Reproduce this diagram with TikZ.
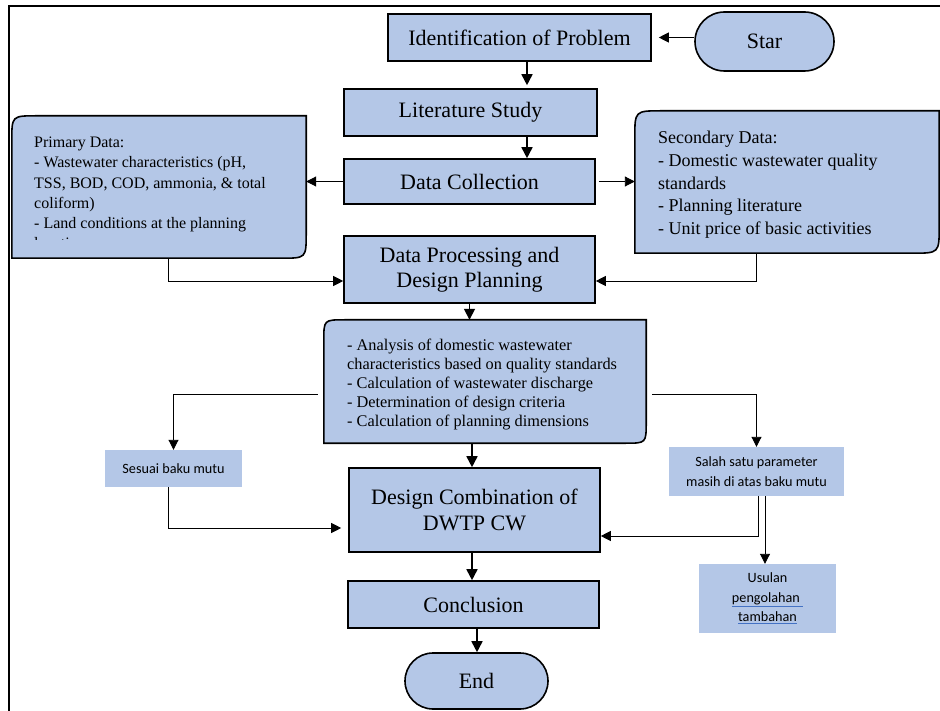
\documentclass[tikz,border=0pt]{standalone}
\usepackage{fontspec}
\setmainfont{Liberation Serif}
\newfontfamily\calibri{Carlito}
\usetikzlibrary{arrows.meta,shapes.misc,backgrounds}
\definecolor{boxblue}{RGB}{180,199,231}
\definecolor{ulblue}{RGB}{68,114,196}
\newcommand\blueul[1]{{\color{ulblue}\underline{\color{black}#1}}}
% box with the top left and bottom right corners rounded
\newcommand\cutbox[2]{%
  \begin{scope}[on background layer]
    \draw[fill=boxblue,line width=1.6pt]
      (#1.south west) -- ([yshift=-#2]#1.north west)
      .. controls (#1.north west) .. ([xshift=#2]#1.north west)
      -- (#1.north east) -- ([yshift=#2]#1.south east)
      .. controls (#1.south east) .. ([xshift=-#2]#1.south east) -- cycle;
  \end{scope}}

\begin{document}
\begin{tikzpicture}[x=1pt,y=-1pt,
    proc/.style={draw,fill=boxblue,line width=1.6pt,inner sep=0pt,align=center,
      font=\fontsize{22}{25.5}\selectfont},
    term/.style={proc,rounded rectangle},
    area/.style={inner sep=0pt},
    list/.style={inner sep=0pt,anchor=north west,align=left},
    note/.style={fill=boxblue,inner sep=0pt,align=center,
      font=\calibri\fontsize{14.2}{19.5}\selectfont},
    arr/.style={-{Triangle[length=10pt,width=10pt]},line width=0.9pt},
    arrb/.style={-{Triangle[length=11pt,width=11pt]},line width=1.7pt}]
  \useasboundingbox (0,0) rectangle (940,711);
  \draw[line width=1.3pt] (9,711) -- (9,6) -- (940,6);

  % main column
  \node[proc,minimum width=263pt,minimum height=47pt] (ident) at (519.5,37.5) {Identification of Problem};
  \node[term,minimum width=139pt,minimum height=59pt] (star) at (764.5,41.5) {Star};
  \node[proc,minimum width=253pt,minimum height=47pt] (lit) at (470.5,112.5) {Literature Study};
  \node[proc,minimum width=251pt,minimum height=45pt] (coll) at (469.5,181.5) {Data Collection};
  \node[proc,minimum width=251pt,minimum height=67pt] (proc) at (469.5,269.5) {Data Processing and\\Design Planning};
  \node[proc,minimum width=251pt,minimum height=84pt] (design) at (474.5,510) {Design Combination of\\DWTP CW};
  \node[proc,minimum width=251pt,minimum height=47pt] (concl) at (473.5,604.5) {Conclusion};
  \node[term,minimum width=143pt,minimum height=56pt] (endn) at (476.5,681) {End};

  % data boxes
  \node[area,minimum width=294pt,minimum height=142pt] (primary) at (159,187) {};
  \cutbox{primary}{25pt}
  \begin{scope}
    \clip (12,116) rectangle (306,240);
    \node[list,font=\fontsize{16}{20.2}\selectfont] (primtxt) at (34,137)
      {Primary Data:\\- Wastewater characteristics (pH,\\TSS, BOD, COD, ammonia, \& total\\coliform)\\- Land conditions at the planning\\location};
  \end{scope}

  \node[area,minimum width=304pt,minimum height=142pt] (secondary) at (787,182) {};
  \cutbox{secondary}{27pt}
  \node[list,font=\fontsize{18}{22.7}\selectfont] (sectxt) at (658,131)
    {Secondary Data:\\- Domestic wastewater quality\\standards\\- Planning literature\\- Unit price of basic activities};

  \node[area,minimum width=322pt,minimum height=123pt] (analysis) at (485,381.5) {};
  \cutbox{analysis}{21pt}
  \node[list,font=\fontsize{16.3}{19}\selectfont] (anatxt) at (347,339)
    {- Analysis of domestic wastewater\\characteristics based on quality standards\\- Calculation of wastewater discharge\\- Determination of design criteria\\- Calculation of planning dimensions};

  % side notes
  \node[note,minimum width=137pt,minimum height=37pt] (sesuai) at (173.5,468.5) {Sesuai baku mutu};
  \node[note,minimum width=175pt,minimum height=49pt] (salah) at (756.5,471.5) {Salah satu parameter\\masih di atas baku mutu};
  \node[note,minimum width=137pt,minimum height=69pt] (usulan) at (767.5,598.5) {Usulan\\\blueul{pengolahan\ }\\\blueul{tambahan}};

  % connectors
  \draw[arr] (star.west |- ident.east) -- ([xshift=7pt]ident.east);
  \draw[arrb] ([xshift=7.5pt]ident.south) -- ([xshift=7.5pt,yshift=3pt]ident.south |- lit.north);
  \draw[arrb] ([xshift=56.5pt]lit.south) -- ([xshift=56.5pt]lit.south |- coll.north);
  \draw[arr] (coll.west) -- (primary.east |- coll.west);
  \draw[arr] ([xshift=3pt]coll.east) -- (secondary.west |- coll.east);
  \draw[arr] ([xshift=9pt]primary.south) |- ([yshift=-11.5pt]proc.west);
  \draw[arr] ([xshift=-31pt]secondary.south) |- ([yshift=-11.5pt]proc.east);
  \draw[arrb] (proc.south) -- (proc.south |- analysis.north);
  \draw[arr] ([xshift=-6pt,yshift=-13pt]analysis.west) -| (sesuai.north);
  \draw[arr] ([xshift=6pt,yshift=-13pt]analysis.east) -| (salah.north);
  \draw[arrb] ([xshift=-13pt]analysis.south) -- ([xshift=-13pt]analysis.south |- design.north);
  \draw[arrb] ([xshift=-2.5pt]design.south) -- ([xshift=-2.5pt]design.south |- concl.north);
  \draw[arrb] ([xshift=3.5pt]concl.south) -- ([xshift=3.5pt]concl.south |- endn.north);
  \draw[arr] ([xshift=-5.5pt]sesuai.south) |- ([xshift=-7pt,yshift=-18pt]design.west);
  \draw[arr] ([xshift=1.5pt]salah.south) |- ([yshift=-26pt]design.east);
  \draw[arr] ([xshift=8.5pt]salah.south) -- ([xshift=8.5pt]salah.south |- usulan.north);
\end{tikzpicture}
\end{document}
